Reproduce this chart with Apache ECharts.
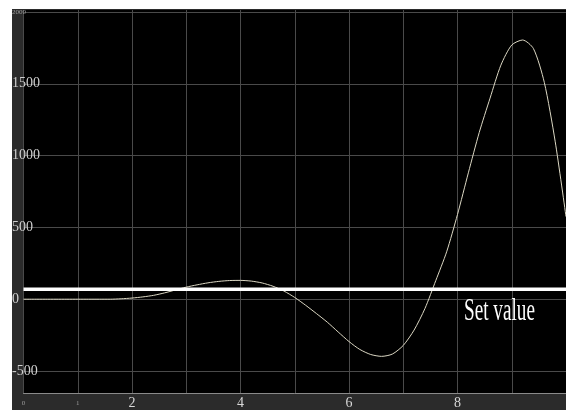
<!DOCTYPE html>
<html><head><meta charset="utf-8">
<script src="https://cdn.jsdelivr.net/npm/echarts@6/dist/echarts.min.js"></script>
<style>
html,body{margin:0;padding:0;background:#fff;}
#frame{position:absolute;left:12px;top:9px;width:554px;height:401px;background:#2b2b2b;}
#chart{position:absolute;left:0;top:0;width:566px;height:410px;}
</style></head><body>
<div id="frame"></div><div id="chart"></div>
<script>
const timeValues = [0,0.2,0.4,0.6,0.8,1.0,1.2,1.4,1.6,1.8,2.0,2.2,2.4,2.6,2.8,3.0,3.2,3.4,3.6,3.8,4.0,4.2,4.4,4.6,4.8,5.0,5.2,5.4,5.6,5.8,6.0,6.2,6.4,6.6,6.8,7.0,7.2,7.4,7.6,7.8,8.0,8.2,8.4,8.6,8.8,9.0,9.2,9.4,9.6,9.8,10.0];
const responseValues = [0,0,0,0,0,0,0,0,0,3,8,16,27,44,64,84,100,114,124,130,131,126,113,90,57,12,-42,-100,-160,-228,-295,-350,-385,-398,-382,-322,-215,-65,130,330,590,880,1160,1400,1630,1770,1805,1745,1510,1100,575];
const setValue = 70;
const setValueLabel = 'Set value';
const xBigLabels = [2, 4, 6, 8];
const xSmallLabels = [0, 1];
const ySmallLabels = [2000];

const chart = echarts.init(document.getElementById('chart'), null, {renderer: 'canvas'});
const gridColor = '#4a4a4a';
const option = {
  backgroundColor: 'transparent',
  animation: false,
  grid: [
    {left: 23.5, right: 0, top: 10, bottom: 14, show: true, backgroundColor: '#000', borderWidth: 0},
    {left: 23.5, right: 0, top: 12, bottom: 39, show: false}
  ],
  xAxis: [
    {gridIndex: 0, type: 'value', min: 0, max: 10, interval: 1,
     axisLine: {show: true, lineStyle: {color: '#8a8a8a', width: 1}},
     axisTick: {show: false},
     splitLine: {show: true, lineStyle: {color: gridColor, width: 1}},
     axisLabel: {margin: 3, verticalAlign: 'top', showMaxLabel: false,
       formatter: v => xSmallLabels.includes(v) ? '{s|' + v + '}' : (xBigLabels.includes(v) ? '{b|' + v + '}' : ''),
       rich: {
         s: {fontSize: 7, color: '#9a9a9a', padding: [4, 0, 0, 0], fontFamily: 'Liberation Serif'},
         b: {fontSize: 14, color: '#d8d8d8', fontFamily: 'Liberation Serif'}
       }}},
    {gridIndex: 1, type: 'value', min: 0, max: 10, show: false}
  ],
  yAxis: [
    {gridIndex: 0, type: 'value', min: 0, max: 1, show: false, splitLine: {show: false}},
    {gridIndex: 1, type: 'value', min: -500, max: 2000, interval: 500,
     axisLine: {show: false}, axisTick: {show: false},
     splitLine: {show: true, lineStyle: {color: gridColor, width: 1}},
     axisLabel: {align: 'left', margin: 11.5,
       formatter: v => ySmallLabels.includes(v) ? '{s|' + v + '}' : '{b|' + v + '}',
       rich: {
         s: {fontSize: 7, color: '#9a9a9a', fontFamily: 'Liberation Serif'},
         b: {fontSize: 14, color: '#d0d0d0', fontFamily: 'Liberation Serif'}
       }}}
  ],
  series: [
    {type: 'line', xAxisIndex: 1, yAxisIndex: 1,
     data: timeValues.map((t, i) => [t, responseValues[i]]),
     showSymbol: false, smooth: 0.25, clip: false, z: 3,
     lineStyle: {color: '#dcd8c4', width: 1}},
    {type: 'line', xAxisIndex: 1, yAxisIndex: 1,
     data: [[0, setValue], [10, setValue]],
     showSymbol: false, z: 4,
     lineStyle: {color: '#ffffff', width: 3.5}}
  ],
  graphic: [
    {type: 'text', x: 464, y: 296, scaleX: 0.6, z: 10,
     style: {text: setValueLabel, fill: '#ffffff', font: '32px "Liberation Serif"', textVerticalAlign: 'top', verticalAlign: 'top'}}
  ]
};
chart.setOption(option);
</script>
</body></html>
